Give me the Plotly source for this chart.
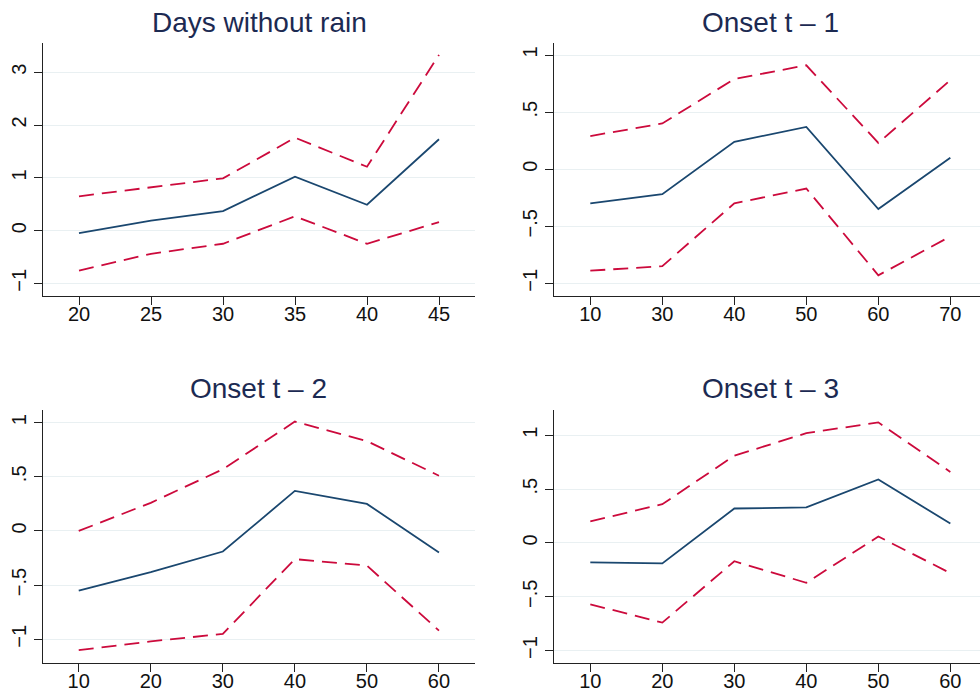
import plotly.graph_objects as go

# ---- data ----
titles = ["Days without rain", "Onset t – 1", "Onset t – 2", "Onset t – 3"]

x_p1 = ["20", "25", "30", "35", "40", "45"]
est_p1 = [-0.05, 0.19, 0.37, 1.02, 0.49, 1.73]
hi_p1 = [0.65, 0.82, 0.99, 1.76, 1.21, 3.33]
lo_p1 = [-0.76, -0.44, -0.25, 0.27, -0.25, 0.16]

x_p2 = ["10", "30", "40", "50", "60", "70"]
est_p2 = [-0.30, -0.22, 0.24, 0.37, -0.35, 0.10]
hi_p2 = [0.29, 0.40, 0.79, 0.91, 0.23, 0.78]
lo_p2 = [-0.89, -0.85, -0.30, -0.17, -0.93, -0.59]

x_p3 = ["10", "20", "30", "40", "50", "60"]
est_p3 = [-0.55, -0.38, -0.19, 0.37, 0.25, -0.20]
hi_p3 = [0.0, 0.26, 0.57, 1.01, 0.83, 0.51]
lo_p3 = [-1.10, -1.02, -0.95, -0.26, -0.32, -0.92]

x_p4 = ["10", "20", "30", "40", "50", "60"]
est_p4 = [-0.18, -0.19, 0.32, 0.33, 0.59, 0.18]
hi_p4 = [0.20, 0.36, 0.81, 1.02, 1.12, 0.66]
lo_p4 = [-0.57, -0.74, -0.17, -0.37, 0.06, -0.28]

yt_p1 = [-1, 0, 1, 2, 3]
yl_p1 = ["−1", "0", "1", "2", "3"]
yt_small = [-1, -0.5, 0, 0.5, 1]
yl_small = ["−1", "−.5", "0", ".5", "1"]

# ---- style ----
NAVY = "#1a476f"
RED = "#cc0a3c"
TITLE_C = "#1c2a52"
AXIS_C = "#222222"
GRID_C = "#e9f0f2"
FONT = "Liberation Sans, Arial, sans-serif"

W, H = 980, 700
panels = [
    dict(x=x_p1, est=est_p1, hi=hi_p1, lo=lo_p1, yt=yt_p1, yl=yl_p1,
         px=(43, 475), py=(43, 296), yr=[-1.24, 3.555], xr=[-0.5, 5.5]),
    dict(x=x_p2, est=est_p2, hi=hi_p2, lo=lo_p2, yt=yt_small, yl=yl_small,
         px=(554.3, 980), py=(42.7, 295.7), yr=[-1.109, 1.108], xr=[-0.5, 5.412]),
    dict(x=x_p3, est=est_p3, hi=hi_p3, lo=lo_p3, yt=yt_small, yl=yl_small,
         px=(42.7, 475), py=(410, 663.3), yr=[-1.222, 1.117], xr=[-0.5, 5.5]),
    dict(x=x_p4, est=est_p4, hi=hi_p4, lo=lo_p4, yt=yt_small, yl=yl_small,
         px=(554.3, 980), py=(410, 663.3), yr=[-1.118, 1.235], xr=[-0.5, 5.412]),
]
title_y = [22, 388]

fig = go.Figure()
annotations = []
for i, p in enumerate(panels):
    n = "" if i == 0 else str(i + 1)
    xa, ya = "x" + n, "y" + n
    for series, color, dash in ((p["hi"], RED, "15px,8px"), (p["lo"], RED, "15px,8px"),
                                (p["est"], NAVY, "solid")):
        fig.add_trace(go.Scatter(x=p["x"], y=series, mode="lines", xaxis=xa, yaxis=ya,
                                 line=dict(color=color, width=1.8, dash=dash),
                                 showlegend=False, hoverinfo="skip"))
    xdom = [p["px"][0] / W, p["px"][1] / W]
    ydom = [1 - p["py"][1] / H, 1 - p["py"][0] / H]
    fig.layout["xaxis" + n] = dict(
        domain=xdom, anchor=ya, type="category", range=p["xr"],
        showgrid=False, showline=True, linecolor=AXIS_C, linewidth=1.3,
        ticks="outside", ticklen=8, tickwidth=1.3, tickcolor=AXIS_C,
        ticklabelstandoff=-8,
        tickfont=dict(size=20, color="#111111", family=FONT), zeroline=False)
    fig.layout["yaxis" + n] = dict(
        domain=ydom, anchor=xa, range=p["yr"], tickvals=p["yt"], ticktext=p["yl"],
        tickangle=-90, showgrid=True, gridcolor=GRID_C, gridwidth=1.3,
        showline=True, linecolor=AXIS_C, linewidth=1.3,
        ticks="outside", ticklen=8, tickwidth=1.3, tickcolor=AXIS_C,
        tickfont=dict(size=20, color="#111111", family=FONT), zeroline=False)
    cx = (p["px"][0] + (p["px"][0] + 432)) / 2 / W
    ty = title_y[i // 2]
    annotations.append(dict(text=titles[i], x=cx, y=1 - ty / H, xref="paper", yref="paper",
                            xanchor="center", yanchor="middle", showarrow=False,
                            font=dict(size=28, color=TITLE_C, family=FONT)))

fig.update_layout(width=W, height=H, margin=dict(l=0, r=0, t=0, b=0),
                  paper_bgcolor="white", plot_bgcolor="white",
                  annotations=annotations, font=dict(family=FONT))
fig.write_html("out.html")
